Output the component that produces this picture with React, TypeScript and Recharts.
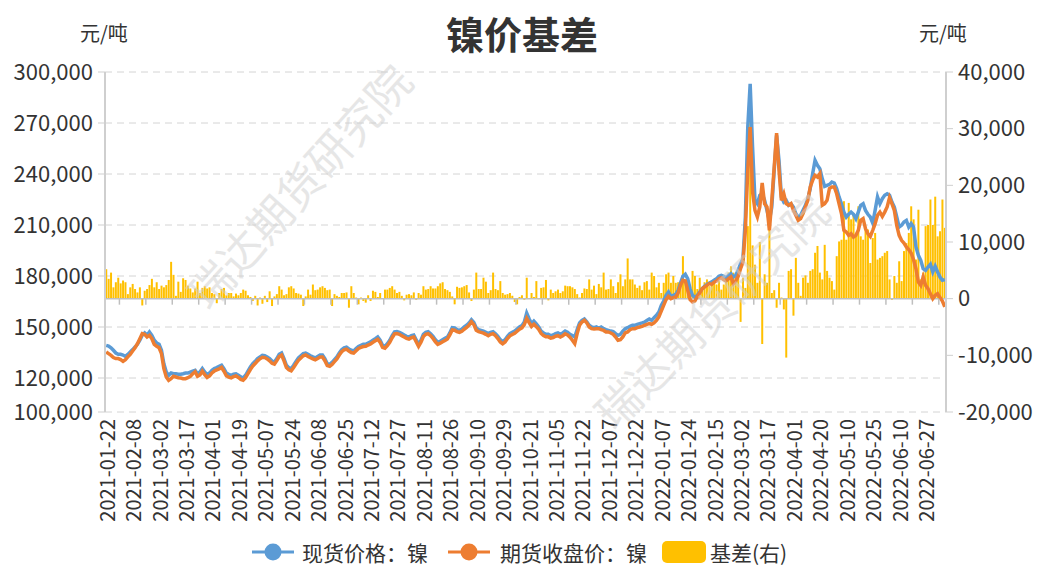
import React from 'react';
import { ComposedChart, Bar, Line, XAxis, YAxis, CartesianGrid, ReferenceLine } from 'recharts';

// Trading days (month -> days) used as the category axis
const tradingDays: [string, number[]][] = [
  ['2021-01', [22, 25, 26, 27, 28, 29]],
  ['2021-02', [1, 2, 3, 4, 5, 8, 9, 10, 18, 19, 22, 23, 24, 25, 26]],
  ['2021-03', [1, 2, 3, 4, 5, 8, 9, 10, 11, 12, 15, 16, 17, 18, 19, 22, 23, 24, 25, 26, 29, 30, 31]],
  ['2021-04', [1, 2, 6, 7, 8, 9, 12, 13, 14, 15, 16, 19, 20, 21, 22, 23, 26, 27, 28, 29, 30]],
  ['2021-05', [6, 7, 10, 11, 12, 13, 14, 17, 18, 19, 20, 21, 24, 25, 26, 27, 28, 31]],
  ['2021-06', [1, 2, 3, 4, 7, 8, 9, 10, 11, 15, 16, 17, 21, 22, 23, 24, 25, 28, 29, 30]],
  ['2021-07', [1, 2, 5, 6, 7, 8, 9, 12, 13, 14, 15, 16, 19, 20, 21, 22, 23, 26, 27, 28, 29, 30]],
  ['2021-08', [2, 3, 4, 5, 6, 9, 10, 11, 12, 13, 16, 17, 18, 19, 20, 23, 24, 25, 26, 27, 30, 31]],
  ['2021-09', [1, 2, 3, 6, 7, 8, 9, 10, 13, 14, 15, 16, 17, 22, 23, 24, 27, 28, 29, 30]],
  ['2021-10', [8, 11, 12, 13, 14, 15, 18, 19, 20, 21, 22, 25, 26, 27, 28, 29]],
  ['2021-11', [1, 2, 3, 4, 5, 8, 9, 10, 11, 12, 15, 16, 17, 18, 19, 22, 23, 24, 25, 26, 29, 30]],
  ['2021-12', [1, 2, 3, 6, 7, 8, 9, 10, 13, 14, 15, 16, 17, 20, 21, 22, 23, 24, 27, 28, 29, 30, 31]],
  ['2022-01', [4, 5, 6, 7, 10, 11, 12, 13, 14, 17, 18, 19, 20, 21, 24, 25, 26, 27, 28]],
  ['2022-02', [7, 8, 9, 10, 11, 14, 15, 16, 17, 18, 21, 22, 23, 24, 25, 28]],
  ['2022-03', [1, 2, 3, 4, 7, 8, 9, 10, 11, 14, 15, 16, 17, 18, 21, 22, 23, 24, 25, 28, 29, 30, 31]],
  ['2022-04', [1, 6, 7, 8, 11, 12, 13, 14, 15, 18, 19, 20, 21, 22, 25, 26, 27, 28, 29]],
  ['2022-05', [5, 6, 9, 10, 11, 12, 13, 16, 17, 18, 19, 20, 23, 24, 25, 26, 27, 30, 31]],
  ['2022-06', [1, 2, 6, 7, 8, 9, 10, 13, 14, 15, 16, 17, 20, 21, 22, 23, 24, 27, 28, 29, 30]],
  ['2022-07', [1, 4, 5, 6, 7]],
];

const categories: string[] = tradingDays.flatMap(([m, days]) =>
  days.map((d) => `${m}-${String(d).padStart(2, '0')}`)
);

// 现货价格：镍 (元/吨)
const spotPrice: number[] = [
  139200, 138800, 137800, 136300, 134700, 133900, 133900, 133500, 132700, 133900,
  135300, 136700, 138200, 139800, 142200, 145100, 146500, 145100, 147100, 145100,
  142200, 140600, 139800, 136300, 128400, 123500, 121600, 122900, 122500, 122500,
  122200, 122200, 122500, 122900, 122900, 123500, 124100, 124500, 122500, 123500,
  125500, 123500, 122000, 122900, 124500, 125500, 126100, 126900, 127500, 125500,
  122900, 122200, 121600, 122200, 122500, 121600, 120600, 120000, 121600, 124100,
  126500, 128400, 129800, 131400, 132400, 133300, 133100, 132400, 131400, 130000,
  129400, 131400, 133900, 134700, 131400, 127500, 126100, 125500, 127500, 129800,
  131800, 133100, 134300, 134700, 133900, 133100, 132400, 131800, 132700, 133500,
  133500, 131400, 128400, 128000, 129200, 130800, 132400, 134700, 136700, 137800,
  138200, 137100, 136300, 135900, 137300, 138600, 139200, 139800, 139800, 140600,
  141200, 142200, 143100, 144100, 142200, 139200, 138600, 140200, 142200, 144900,
  147100, 147300, 146900, 146100, 145300, 144500, 144100, 144900, 145300, 142500,
  139800, 142200, 145700, 146900, 147300, 146100, 144500, 142500, 141000, 141600,
  142500, 143300, 144100, 146500, 149600, 149400, 148400, 148000, 148800, 150000,
  151000, 152400, 154300, 152700, 149400, 148400, 148000, 147600, 146900, 146100,
  146900, 147300, 146100, 144500, 142500, 141400, 142500, 144500, 146100, 146900,
  147600, 148800, 150000, 150800, 152900, 158200, 154900, 151900, 153500, 151900,
  150000, 147600, 146500, 145700, 145700, 144900, 145300, 146100, 146500, 145700,
  146500, 147600, 146900, 145700, 145000, 144100, 148500, 152400, 153900, 154700,
  153100, 151000, 150000, 149600, 150000, 149200, 150000, 149000, 148400, 148000,
  147600, 147300, 146100, 145100, 145700, 147600, 149000, 149600, 150400, 151000,
  151000, 151600, 152000, 152400, 152900, 153900, 154700, 153900, 155500, 156900,
  158800, 162700, 165300, 168600, 170600, 168000, 168600, 169200, 171600, 175900,
  179800, 181000, 178400, 172500, 168600, 167600, 168600, 170600, 172500, 173900,
  175100, 175900, 176500, 177500, 178400, 179800, 180400, 179800, 179000, 180400,
  181400, 179400, 180400, 183300, 187300, 190200, 214700, 267600, 293100, 255900,
  224500, 222500, 227500, 228400, 224500, 218600, 212700, 220600, 242200, 262700,
  248000, 226500, 223500, 224500, 221600, 222500, 220600, 216700, 214700, 215700,
  218600, 221600, 225500, 231400, 240200, 248000, 245100, 243100, 237300, 232700,
  233300, 233900, 235300, 234700, 231400, 226500, 222500, 217600, 214700, 216300,
  217600, 216300, 213700, 217600, 221600, 222500, 218600, 216300, 214700, 211200,
  218600, 226500, 222500, 225500, 227500, 228400, 227500, 223500, 220600, 214700,
  208800, 209800, 211800, 212700, 208800, 210800, 208800, 197100, 192200, 189200,
  184300, 183300, 185300, 186900, 182400, 185700, 182400, 179400, 177500, 177900,
];

// 期货收盘价：镍 (元/吨)
const futuresClose: number[] = [
  135300, 134300, 133300, 132000, 131400, 131400, 130800, 129800, 130800, 132400,
  133900, 135900, 137800, 140200, 143100, 146100, 145700, 144100, 145100, 143100,
  139800, 138600, 137800, 134300, 125500, 120600, 118600, 119600, 121000, 120600,
  120200, 120000, 119600, 119600, 120200, 121000, 122500, 123700, 121000, 121800,
  124000, 122000, 120300, 121200, 123000, 124100, 124800, 125400, 126200, 124000,
  121300, 120500, 120100, 120800, 121200, 120300, 119200, 118700, 120200, 122600,
  125000, 127000, 128500, 130100, 131300, 132200, 132000, 131200, 130100, 128700,
  128200, 130200, 132600, 133500, 130100, 126200, 124800, 124200, 126100, 128400,
  130400, 131800, 133100, 133600, 132700, 131900, 131300, 130700, 131500, 132300,
  132300, 130200, 127300, 126900, 128000, 129600, 131200, 133500, 135500, 136600,
  137000, 135900, 135000, 134700, 136000, 137400, 138000, 138500, 138600, 139400,
  140000, 141000, 141900, 142800, 141000, 138000, 137500, 139000, 141000, 143700,
  145900, 146100, 145700, 144900, 144100, 143300, 142900, 143700, 144100, 141300,
  138600, 141000, 144400, 145700, 146100, 144900, 143300, 141300, 139800, 140400,
  141300, 142100, 142900, 145300, 148300, 148100, 147200, 146800, 147500, 148700,
  149700, 151100, 153000, 151400, 148100, 147200, 146800, 146400, 145700, 144900,
  145700, 146100, 144900, 143200, 141200, 140100, 141200, 143200, 144800, 145600,
  146300, 147500, 148700, 149500, 151400, 155100, 152600, 150300, 151600, 150200,
  148600, 146200, 145000, 144200, 144200, 143400, 143800, 144600, 144900, 144100,
  144900, 146000, 145300, 144000, 142200, 140200, 146100, 151000, 152900, 153900,
  152400, 150000, 149000, 148800, 149000, 149000, 148400, 148000, 147100, 147100,
  146500, 145700, 144100, 142200, 142500, 144100, 146500, 147100, 148400, 149000,
  149000, 149600, 150000, 150400, 151000, 151600, 152000, 151600, 152400, 153900,
  155900, 159400, 162700, 166100, 168000, 166700, 167300, 167600, 170000, 174500,
  177500, 177100, 171600, 166100, 164700, 165300, 168000, 170000, 172500, 173500,
  174500, 175500, 175100, 176300, 177100, 178400, 179000, 177800, 177100, 178400,
  179400, 175500, 177100, 179800, 184300, 188200, 206900, 242200, 267600, 229400,
  218600, 214700, 220600, 234700, 222500, 220600, 206900, 224500, 244000, 264000,
  242200, 224500, 228400, 222500, 221600, 222500, 218600, 215700, 212700, 213700,
  216700, 220600, 224500, 232400, 236300, 239200, 238200, 240200, 221600, 222500,
  224500, 231400, 232400, 232400, 228400, 222500, 216700, 206900, 205900, 203900,
  204900, 202900, 203900, 206900, 212700, 213700, 207800, 204900, 203300, 206900,
  210800, 215700, 217600, 215100, 217600, 220600, 226100, 222500, 218600, 209800,
  203900, 201000, 199400, 197100, 195500, 193500, 189600, 184300, 176500, 174500,
  179400, 174500, 172500, 169600, 166700, 168600, 169600, 167300, 165300, 161800,
];

// 基差(右) (元/吨)
const basis: number[] = [
  5200, 3500, 4600, 2000, 2900, 3700, 2700, 3200, 2900, 800,
  2000, 2600, 1700, 1100, 2000, -1200, 1400, 1700, 2400, 3500,
  2000, 2900, 1700, 2300, 2000, 2400, 3300, 6500, 4200, 500,
  3000, 1200, 3600, 3300, 2300, 1800, 1100, 1800, 3000, 1000,
  1900, 2200, 1800, 2000, 1000, 800, -800, 1000, 1700, 1900,
  600, 1000, 1000, 400, 900, 600, 1000, 1600, 1400, 600,
  300, -400, 500, -1200, 200, -900, 500, -600, 1300, -1300,
  400, 800, 2200, 1600, 600, 800, 2000, 2200, 1800, 1000,
  900, 700, -1300, 400, 1600, 700, 2500, 1500, 1600, 2000,
  2200, 1900, 1500, 1600, -1300, 800, 500, 300, 1000, 1000,
  1100, -1600, 2200, 1000, 200, -1000, 200, -400, -700, 600,
  -400, 1400, 1200, 300, 1000, 100, 1600, 1600, 1900, 2200,
  1600, 1000, 1200, 500, -300, 700, 800, 600, 1100, -200,
  1000, 700, 2200, 1600, 1700, 2200, 1800, 1800, 2200, 2700,
  2900, 1700, 1500, 1200, 400, -1000, 2100, 1900, 2000, 2200,
  2400, 1100, -400, 1600, 4600, 1700, 1700, 3700, 3000, 1000,
  1500, 4600, 1700, 1500, 3100, 1000, 700, 800, 1000, 500,
  -600, -1000, 300, 600, -200, 3700, 100, 1000, 300, 3100,
  -100, 1900, 2000, 3300, -300, 1600, 1000, 1300, 1600, 1000,
  1300, 2300, 2200, 2200, 2000, 1700, 800, 200, 1000, 1800,
  1700, 3400, 1600, 2300, 800, 2600, 2000, 4600, 1600, 1700,
  3400, 2200, 1000, 2900, 4300, 2200, 3400, 7100, 3400, 3400,
  2500, 1900, 2300, 1500, 2900, 3100, 1600, 4600, 4000, 2000,
  2800, 1000, 2800, 4300, 4600, 2800, 4000, 2800, 2900, 2500,
  7500, 3400, 3100, 1300, 4900, 4000, 1700, 3700, 1600, 2900,
  3400, 2200, 2800, 3400, 2500, 3100, 1600, 2500, 3400, 4600,
  5700, 4600, 4000, 3700, -4100, 3700, 1900, 12800, 37000, 9400,
  6000, 2800, 10000, -8000, 4300, 2800, 13000, 1000, 1500, -1600,
  2800, 200, -1900, -10400, 4900, 5200, -3000, 7200, 2800, 500,
  3700, 4100, 2800, 4900, 5200, 8100, 9300, 4600, 3400, 9500,
  4900, 3700, 3100, 1600, 7500, 10100, 10400, 17200, 10400, 16900,
  14000, 15100, 11600, 16300, 11000, 10400, 12500, 12200, 6300, 10700,
  11600, 6900, 7200, 7500, 8100, 8400, 3400, -200, 4000, 2800,
  6600, 3100, 8400, 9800, 11600, 16300, 14000, 6900, 15700, 3400,
  4600, 12800, 13000, 17500, 13000, 18000, 11000, 11900, 17500, 12500,
];

const leftTicks = [100000, 120000, 150000, 180000, 210000, 240000, 270000, 300000];
const rightTicks = [-20000, -10000, 0, 10000, 20000, 30000, 40000];
const leftDomain: [number, number] = [100000, 300000];
const rightDomain: [number, number] = [-20000, 40000];

const seriesNames = { spot: '现货价格：镍', futures: '期货收盘价：镍', basis: '基差(右)' };
const titleText = '镍价基差';
const unitText = '元/吨';
const watermarkText = '瑞达期货研究院';

const COLORS = { spot: '#5B9BD5', futures: '#ED7D31', basis: '#FFC000' };

const data = categories.map((date, i) => ({
  date,
  spot: spotPrice[i],
  futures: futuresClose[i],
  basis: basis[i],
}));

const W = 1038;
const H = 566;
const M_TOP = 72;
const LEFT_W = 105;
const RIGHT_W = 92;
const X_H = 154;
const PLOT_W = W - LEFT_W - RIGHT_W;
const PLOT_H = H - M_TOP - X_H;
const ZERO_Y = M_TOP + PLOT_H * ((rightDomain[1] - 0) / (rightDomain[1] - rightDomain[0]));
const BAND = PLOT_W / categories.length;
const FONT = '"Noto Sans CJK SC", "Noto Sans", sans-serif';
const TEXT = '#333333';

const fmt = (v: number) => v.toLocaleString('en-US');

const XTick = (props: any) => {
  const { x, payload } = props;
  const top = M_TOP + PLOT_H + 7;
  const tx = x + 5.5 * BAND;
  return (
    <g>
      <line x1={tx} x2={tx} y1={ZERO_Y} y2={ZERO_Y + 6} stroke="#bfbfbf" strokeWidth={1.5} />
      <text
        x={x}
        y={top}
        transform={`rotate(-90, ${x}, ${top})`}
        textAnchor="end"
        dominantBaseline="central"
        fill={TEXT}
        fontSize={20}
        fontFamily={FONT}
      >
        {payload.value}
      </text>
    </g>
  );
};

const LegendLineIcon = ({ color }: { color: string }) => (
  <svg width={42} height={20} style={{ display: 'block' }}>
    <line x1={0} x2={42} y1={10} y2={10} stroke={color} strokeWidth={3} />
    <circle cx={21} cy={10} r={8.5} fill={color} />
  </svg>
);

export default function App() {
  return (
    <div
      style={{
        position: 'absolute',
        left: 0,
        top: 0,
        width: W,
        height: H,
        background: '#fff',
        fontFamily: FONT,
        overflow: 'hidden',
      }}
    >
      <ComposedChart
        width={W}
        height={H}
        data={data}
        margin={{ top: M_TOP, right: 0, bottom: 0, left: 0 }}
        barCategoryGap="10%"
      >
        <CartesianGrid yAxisId="left" vertical={false} stroke="#d4d4d4" strokeDasharray="7 5" />
        <XAxis
          dataKey="date"
          interval={10}
          axisLine={false}
          tickLine={false}
          height={X_H}
          tick={<XTick />}
        />
        <YAxis
          yAxisId="left"
          orientation="left"
          width={LEFT_W}
          domain={leftDomain}
          ticks={leftTicks}
          interval={0}
          tickFormatter={fmt}
          axisLine={{ stroke: '#cfcfcf', strokeWidth: 2 }}
          tickLine={{ stroke: '#cfcfcf' }}
          tickSize={7}
          tickMargin={5}
          tick={{ fill: TEXT, fontSize: 22, fontFamily: FONT }}
        />
        <YAxis
          yAxisId="right"
          orientation="right"
          width={RIGHT_W}
          domain={rightDomain}
          ticks={rightTicks}
          interval={0}
          tickFormatter={fmt}
          axisLine={{ stroke: '#cfcfcf', strokeWidth: 2 }}
          tickLine={{ stroke: '#cfcfcf' }}
          tickSize={7}
          tickMargin={5}
          tick={{ fill: TEXT, fontSize: 22, fontFamily: FONT }}
        />
        <Bar yAxisId="right" dataKey="basis" fill={COLORS.basis} isAnimationActive={false} />
        <ReferenceLine yAxisId="right" y={0} stroke="#bfbfbf" strokeWidth={1.5} />
        <Line
          yAxisId="left"
          type="linear"
          dataKey="spot"
          stroke={COLORS.spot}
          strokeWidth={3.5}
          dot={false}
          isAnimationActive={false}
        />
        <Line
          yAxisId="left"
          type="linear"
          dataKey="futures"
          stroke={COLORS.futures}
          strokeWidth={3.5}
          dot={false}
          isAnimationActive={false}
        />
      </ComposedChart>

      {/* watermark */}
      <svg
        width={W}
        height={H}
        style={{ position: 'absolute', left: 0, top: 0, pointerEvents: 'none' }}
      >
        <text
          x={298}
          y={185}
          transform="rotate(-48, 298, 185)"
          textAnchor="middle"
          dominantBaseline="central"
          fontSize={44}
          fontFamily={FONT}
          fill="#cfcfcf"
          opacity={0.5}
        >
          {watermarkText}
        </text>
        <text
          x={710}
          y={310}
          transform="rotate(-45, 710, 310)"
          textAnchor="middle"
          dominantBaseline="central"
          fontSize={44}
          fontFamily={FONT}
          fill="#cfcfcf"
          opacity={0.5}
        >
          {watermarkText}
        </text>
      </svg>

      {/* title and units */}
      <div
        style={{
          position: 'absolute',
          left: 0,
          width: W,
          top: 9,
          textAlign: 'center',
          paddingLeft: 6,
          boxSizing: 'border-box',
          fontSize: 38,
          fontWeight: 700,
          color: TEXT,
          lineHeight: '48px',
        }}
      >
        {titleText}
      </div>
      <div style={{ position: 'absolute', left: 80, top: 19, fontSize: 20, color: TEXT, lineHeight: '28px' }}>
        {unitText}
      </div>
      <div style={{ position: 'absolute', left: 919, top: 19, fontSize: 20, color: TEXT, lineHeight: '28px' }}>
        {unitText}
      </div>

      {/* legend */}
      <div style={{ position: 'absolute', left: 252, top: 542 }}>
        <LegendLineIcon color={COLORS.spot} />
      </div>
      <div style={{ position: 'absolute', left: 302, top: 537, fontSize: 21, color: TEXT, lineHeight: '30px' }}>
        {seriesNames.spot}
      </div>
      <div style={{ position: 'absolute', left: 448, top: 542 }}>
        <LegendLineIcon color={COLORS.futures} />
      </div>
      <div style={{ position: 'absolute', left: 500, top: 537, fontSize: 21, color: TEXT, lineHeight: '30px' }}>
        {seriesNames.futures}
      </div>
      <div
        style={{
          position: 'absolute',
          left: 662,
          top: 541,
          width: 44,
          height: 22,
          borderRadius: 5,
          background: COLORS.basis,
        }}
      />
      <div style={{ position: 'absolute', left: 710, top: 537, fontSize: 21, color: TEXT, lineHeight: '30px' }}>
        {seriesNames.basis}
      </div>
    </div>
  );
}
